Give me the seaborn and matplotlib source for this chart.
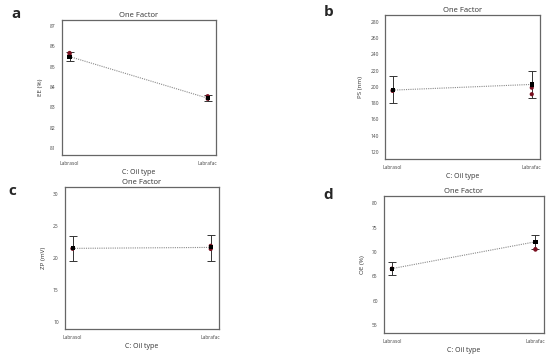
import matplotlib
matplotlib.use("Agg")
import matplotlib.pyplot as plt
import seaborn as sns
import pandas as pd

sns.set_style("white")
plt.rcParams['font.family'] = ['Open Sans', 'DejaVu Sans']

# -------------------------------
# data
# -------------------------------
oil_types = ["Labrasol", "Labrafac"]
xpos = [0, 1]

panel_letters = ["a", "b", "c", "d"]
y_labels = ["EE (%)", "PS (nm)", "ZP (mV)", "OE (%)"]

ee_mean = [85.5, 83.45]
ee_low = [85.3, 83.3]
ee_high = [85.72, 83.62]
ee_points = [[85.68, 85.62], [83.55, 83.42]]
ee_ticks = [81, 82, 83, 84, 85, 86, 87]
ee_lim = (80.65, 87.3)

ps_mean = [196, 203]
ps_low = [180, 186]
ps_high = [213, 219]
ps_points = [[195, 196], [199, 191]]
ps_ticks = [120, 140, 160, 180, 200, 220, 240, 260, 280]
ps_lim = (111.5, 288)

zp_mean = [21.5, 21.65]
zp_low = [19.45, 19.6]
zp_high = [23.45, 23.65]
zp_points = [[21.45, 21.5], [21.9, 21.4]]
zp_ticks = [10, 15, 20, 25, 30]
zp_lim = (8.9, 31.1)

oe_mean = [66.6, 72.1]
oe_low = [65.2, 70.7]
oe_high = [67.9, 73.4]
oe_points = [[66.5, 66.6], [70.5, 70.6]]
oe_ticks = [55, 60, 65, 70, 75, 80]
oe_lim = (53.4, 81.5)

panels = [
    (ee_mean, ee_low, ee_high, ee_points, ee_ticks, ee_lim),
    (ps_mean, ps_low, ps_high, ps_points, ps_ticks, ps_lim),
    (zp_mean, zp_low, zp_high, zp_points, zp_ticks, zp_lim),
    (oe_mean, oe_low, oe_high, oe_points, oe_ticks, oe_lim),
]

# axes boxes in figure fractions
boxes = [
    [0.1127, 0.5658, 0.280, 0.378],
    [0.7000, 0.5546, 0.282, 0.403],
    [0.1182, 0.0784, 0.280, 0.398],
    [0.6982, 0.0672, 0.291, 0.384],
]
letter_pos = [(0.02, 0.96), (0.588, 0.965), (0.015, 0.465), (0.588, 0.455)]

fig = plt.figure(figsize=(5.5, 3.57), dpi=100)

for i, (mean, low, high, pts, ticks, lim) in enumerate(panels):
    ax = fig.add_axes(boxes[i])
    df = pd.DataFrame({"x": xpos, "y": mean})
    sns.lineplot(data=df, x="x", y="y", ax=ax, color="#8a8a8a",
                 linestyle=(0, (1, 1)), linewidth=0.8)
    # design points
    px = [xpos[k] for k in range(2) for _ in pts[k]]
    py = [v for k in range(2) for v in pts[k]]
    sns.scatterplot(x=px, y=py, ax=ax, color="#7a1020", marker="o", s=9,
                    edgecolor="none", zorder=3)
    # error bars
    yerr = [[m - l for m, l in zip(mean, low)], [h - m for m, h in zip(mean, high)]]
    ax.errorbar(xpos, mean, yerr=yerr, fmt="none", ecolor="#333333",
                elinewidth=0.7, capsize=3, capthick=0.7, zorder=2)
    sns.scatterplot(x=xpos, y=mean, ax=ax, color="black", marker="s", s=9,
                    edgecolor="none", zorder=4)

    ax.set_xlim(-0.055, 1.06)
    ax.set_ylim(*lim)
    ax.set_yticks(ticks)
    ax.set_yticklabels([str(t) for t in ticks])
    ax.set_xticks(xpos)
    ax.set_xticklabels(oil_types)
    ax.tick_params(axis="both", labelsize=3.5, length=3, width=0.6,
                   direction="out", pad=1.5, colors="#444444")
    for sp in ax.spines.values():
        sp.set_color("#666666")
        sp.set_linewidth(0.9)
    ax.set_title("One Factor", fontsize=5.5, pad=2, color="#333333")
    ax.set_xlabel("C: Oil type", fontsize=5, labelpad=2, color="#333333")
    ax.set_ylabel(y_labels[i], fontsize=4.5, labelpad=5, color="#333333")

    fig.text(letter_pos[i][0], letter_pos[i][1], panel_letters[i],
             fontsize=11, fontweight="bold", ha="left", va="center")

fig.savefig("out.png", dpi=100)
